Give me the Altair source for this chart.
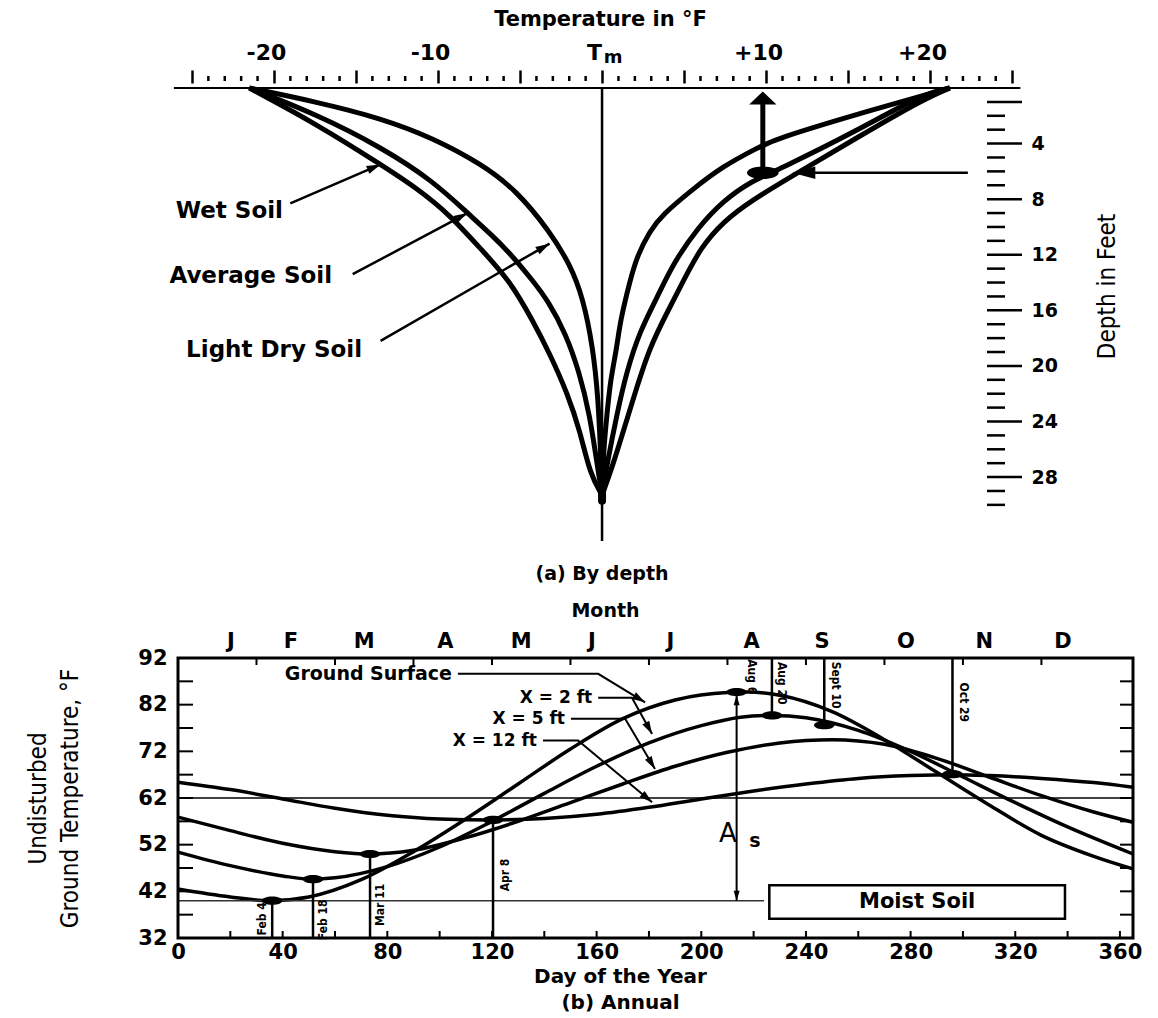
import json
import altair as alt
import numpy as np
import pandas as pd

FONT = "DejaVu Sans"
NARROW = "Liberation Sans Narrow, DejaVu Sans Condensed, sans-serif"
INK = "#000000"

# ======================= (a) By depth =======================
W1, H1 = 844, 453
T_DOM = [-25.85, 25.6]
D_DOM = [0, 32.6]
PX_T = W1 / (T_DOM[1] - T_DOM[0])
PX_D = H1 / (D_DOM[1] - D_DOM[0])

temp_major = [-25, -20, -15, -10, -5, 0, 5, 10, 15, 20, 25]
temp_minor = [v for v in range(-25, 26) if v % 5 != 0]
temp_label_vals = [-20, -10, 0, 10, 20]
temp_label_strs = ["-20", "-10", "T", "+10", "+20"]
tm_subscript = "m"
depth_long_ticks = [1, 4, 8, 12, 16, 20, 24, 28]
depth_short_ticks = [2, 3, 5, 6, 7, 9, 10, 11, 13, 14, 15, 17, 18, 19, 21, 22, 23, 25, 26, 27, 29, 30]
depth_labels = [4, 8, 12, 16, 20, 24, 28]

wet_l_depth = [0, 2.6, 5.5, 7.2, 9.1, 11.7, 13.9, 16.8, 19.1, 22.0, 24.7, 27.8, 29.3]
wet_l_temp = [-21.5, -17.4, -13.5, -11.3, -9.3, -7.3, -5.6, -4.2, -3.2, -2.1, -1.34, -0.73, 0]
avg_l_depth = [0, 1.9, 4.3, 6.7, 9.0, 10.5, 11.9, 13.9, 15.3, 17.7, 20.4, 23.5, 27.1, 29.3]
avg_l_temp = [-21.5, -17.4, -13.4, -10.3, -8.2, -6.8, -5.6, -4.2, -3.3, -2.2, -1.4, -0.75, -0.3, 0]
dry_l_depth = [0, 1.0, 2.2, 3.6, 5.5, 7.4, 10.3, 12.7, 15.1, 18.7, 22.3, 25.9, 29.3]
dry_l_temp = [-21.5, -17.4, -13.4, -10.3, -7.3, -5.2, -3.2, -1.95, -1.16, -0.55, -0.24, -0.1, 0]
wet_r_depth = [0, 0.8, 3.6, 6.4, 8.1, 9.6, 11.5, 13.9, 16.3, 18.7, 21.6, 24.7, 27.1, 29.3]
wet_r_temp = [21.2, 19.6, 15.5, 11.5, 9.1, 7.4, 6.0, 4.95, 3.9, 2.9, 2.1, 1.3, 0.67, 0]
avg_r_depth = [0, 0.4, 3.1, 5.8, 6.7, 8.1, 10.1, 12.7, 15.1, 17.5, 20.4, 23.5, 27.1, 29.3]
avg_r_temp = [21.2, 19.6, 15.5, 10.9, 9.1, 7.4, 5.8, 4.3, 3.35, 2.3, 1.5, 0.9, 0.3, 0]
dry_r_depth = [0, 1.9, 3.7, 4.3, 5.6, 7.4, 9.1, 10.3, 12.2, 13.9, 16.8, 18.7, 21.1, 23.5, 25.9, 29.3]
dry_r_temp = [21.2, 15.5, 10.5, 9.5, 7.4, 5.4, 3.7, 2.9, 2.1, 1.7, 1.1, 0.9, 0.5, 0.3, 0.1, 0]

soil_text = ["Wet Soil", "Average Soil", "Light Dry Soil"]
soil_text_temp = [-19.45, -16.46, -14.63]
soil_text_depth = [8.85, 13.5, 18.85]
soil_arrow_t1 = [-19.0, -15.2, -13.5]
soil_arrow_d1 = [8.3, 13.4, 18.2]
soil_arrow_t2 = [-13.5, -8.2, -3.2]
soil_arrow_d2 = [5.5, 9.0, 11.2]

up_arrow_temp = 9.8
up_arrow_depth = [6.1, 0.25]
side_arrow_temp = [22.3, 11.6]
side_arrow_depth = 6.1

caption_a = "(a) By depth"
caption_a_depth = 35.0

# ======================= (b) Annual =======================
W2, H2 = 955, 280
X_DOM = [0, 365]
Y_DOM = [32, 92]
PX_DAY = W2 / (X_DOM[1] - X_DOM[0])
PX_TMP = H2 / (Y_DOM[1] - Y_DOM[0])

day_labels = list(range(0, 361, 40))
temp_labels_b = list(range(32, 93, 10))
day_ticks_bottom = list(range(20, 361, 20))
day_ticks_top = list(range(30, 331, 30))
temp_ticks_side = list(range(37, 88, 5))
month_letters = ["J", "F", "M", "A", "M", "J", "J", "A", "S", "O", "N", "D"]
month_pos = [20, 43, 71, 102, 131, 158, 188, 219, 246, 278, 308, 338]

surf_day = [0, 20, 35, 50, 70, 90, 110, 130, 150, 170, 190, 210, 218, 230, 250, 270, 290, 310, 330, 350, 365]
surf_temp = [42.5, 40.8, 40.0, 40.8, 44.5, 50.5, 57.5, 65.0, 72.5, 79.0, 83.0, 84.6, 84.7, 84.0, 80.5, 74.5, 67.5, 60.5, 54.0, 49.5, 46.8]
two_day = [0, 20, 40, 51, 60, 80, 100, 120, 140, 160, 180, 200, 215, 227, 240, 260, 280, 300, 320, 340, 365]
two_temp = [50.4, 47.5, 45.3, 44.6, 44.9, 47.3, 51.5, 57.0, 63.0, 68.8, 73.8, 77.5, 79.3, 79.7, 79.2, 76.5, 72.0, 66.5, 61.0, 55.8, 50.0]
five_day = [0, 20, 40, 60, 73, 90, 110, 130, 150, 170, 190, 210, 230, 250, 270, 290, 310, 330, 350, 365]
five_temp = [57.9, 55.0, 52.3, 50.5, 50.0, 50.8, 53.5, 57.0, 61.0, 65.0, 68.8, 71.8, 73.8, 74.5, 73.5, 70.5, 66.5, 62.5, 59.0, 56.8]
twelve_day = [0, 20, 40, 60, 80, 100, 120, 140, 160, 180, 200, 220, 240, 260, 280, 296, 310, 330, 350, 365]
twelve_temp = [65.4, 63.8, 61.8, 59.8, 58.3, 57.5, 57.3, 57.6, 58.5, 60.0, 61.8, 63.5, 65.0, 66.2, 66.8, 67.0, 66.8, 66.2, 65.3, 64.3]

dot_day = [36, 51.6, 73.4, 120.4, 213.5, 227, 247, 296]
dot_temp = [40.0, 44.6, 50.0, 57.3, 84.7, 79.7, 77.6, 67.1]
low_date_day = [36, 51.6, 73.4, 120.4]
low_date_top = [40.0, 44.6, 50.0, 57.3]
high_date_day = [227, 247, 296]
high_date_bottom = [79.7, 77.6, 67.1]

low_label_text = ["Feb 4", "Feb 18", "Mar 11", "Apr 8"]
low_label_day = [32.1, 55.4, 77.2, 125.0]
low_label_temp = [36.1, 35.9, 39.1, 45.5]
high_label_text = ["Aug 6", "Aug 20", "Sept 10", "Oct 29"]
high_label_day = [219.5, 230.8, 251.5, 300.5]
high_label_temp = [88.0, 86.6, 86.2, 82.5]

mean_temp = 62
min_line_temp = 40.0
min_line_end_day = 224
as_day = 213.5
as_top, as_bottom = 84.0, 40.0

box_day = [226, 339]
box_temp = [36.1, 43.3]
box_text = "Moist Soil"
box_text_day, box_text_temp = 282.5, 39.7

curve_names = ["Ground Surface", "X = 2 ft", "X = 5 ft", "X = 12 ft"]
curve_name_size = [19, 17, 17, 17]
curve_text_day = [104.7, 158.3, 147.9, 137.2]
curve_text_temp = [88.6, 83.5, 79.0, 74.3]
leader_day = [[107.0, 160.6, 178.5], [160.6, 173.5, 181.2], [150.2, 170.9, 182.3], [139.5, 152.9, 181.2]]
leader_temp = [[88.6, 88.6, 82.5], [83.5, 83.5, 75.7], [79.0, 79.0, 68.2], [74.3, 74.3, 61.1]]


# ======================= helpers =======================
def tX(field, axis=None):
    return alt.X(field, type="quantitative", scale=alt.Scale(domain=T_DOM, nice=False, zero=False), axis=axis)


def dY(field, axis=None):
    return alt.Y(field, type="quantitative", scale=alt.Scale(domain=D_DOM, nice=False, zero=False, reverse=True), axis=axis)


def bX(field, axis=None):
    return alt.X(field, type="quantitative", scale=alt.Scale(domain=X_DOM, nice=False, zero=False), axis=axis)


def bY(field, axis=None):
    return alt.Y(field, type="quantitative", scale=alt.Scale(domain=Y_DOM, nice=False, zero=False), axis=axis)


def head_rows(x1, y1, x2, y2, pxx, pxy, half, y_down):
    """arrow head centre and angle for a segment ending at (x2, y2)"""
    dx = (x2 - x1) * pxx
    dy = (y2 - y1) * pxy * (1 if y_down else -1)
    n = np.hypot(dx, dy)
    ux, uy = dx / n, dy / n
    ang = (np.degrees(np.arctan2(dx, -dy)) + 360) % 360
    cx = x2 - ux * half / pxx
    cy = y2 - uy * half / pxy * (1 if y_down else -1)
    return cx, cy, ang


HEAD = "M0,-1 L0.6,1 L-0.6,1 Z"
HEAD_WIDE = "M0,-1 L2.1,1 L-2.1,1 Z"
HEAD_MED = "M0,-1 L0.55,1 L-0.55,1 Z"
ELLIPSE = "M-1,0 A1,0.4 0 1,0 1,0 A1,0.4 0 1,0 -1,0 Z"

# ======================= panel (a) layers =======================
temp_expr = "indexof(%s, datum.value) >= 0 ? %s[indexof(%s, datum.value)] : ''" % (
    json.dumps(temp_label_vals), json.dumps(temp_label_strs, ensure_ascii=False), json.dumps(temp_label_vals))

temp_axis = alt.Axis(orient="top", values=temp_major, offset=5, tickSize=13, tickWidth=2.5, tickColor=INK,
                     domain=False, grid=False, labelExpr=temp_expr, labelFontSize=22, labelFontWeight="bold",
                     labelPadding=6, labelOffset=-8, labelFlush=False, labelOverlap=False,
                     title="Temperature in °F", titleFontSize=21, titleFontWeight="bold", titlePadding=12)
depth_axis = alt.Axis(orient="right", values=depth_labels, ticks=False, domain=False, grid=False,
                      labelFontSize=19, labelFontWeight="bold", labelPadding=9, labelOverlap=False,
                      title="Depth in Feet", titleFont=NARROW, titleFontSize=24, titleFontWeight="normal",
                      titleAngle=270, titlePadding=62, titleY=198)

center_df = pd.DataFrame({"t": [0], "d": [D_DOM[0]], "d2": [D_DOM[1]]})
center_line = alt.Chart(center_df).mark_rule(color=INK, strokeWidth=2.5).encode(
    x=tX("t", temp_axis), y=dY("d", depth_axis), y2="d2")

tm_sub = alt.Chart(pd.DataFrame({"t": [0.1], "s": [tm_subscript]})).mark_text(
    font=FONT, fontSize=18, fontWeight="bold", color=INK, baseline="middle", align="left").encode(
    x=tX("t"), y=alt.value(-30), text="s:N")

top_line = alt.Chart(pd.DataFrame({"t": [-26.1], "t2": [25.5], "d": [0]})).mark_rule(
    color=INK, strokeWidth=2).encode(x=tX("t"), x2="t2", y=dY("d"))

minor_ruler = alt.Chart(pd.DataFrame({"t": temp_minor})).mark_rule(color=INK, strokeWidth=2.5).encode(
    x=tX("t"), y=alt.value(-12), y2=alt.value(-7))

long_ticks = alt.Chart(pd.DataFrame({"d": depth_long_ticks})).mark_rule(color=INK, strokeWidth=2.5).encode(
    y=dY("d"), x=alt.value(W1 - 35), x2=alt.value(W1))
short_ticks = alt.Chart(pd.DataFrame({"d": depth_short_ticks})).mark_rule(color=INK, strokeWidth=2.5).encode(
    y=dY("d"), x=alt.value(W1 - 35), x2=alt.value(W1 - 17))

rows = []
for name, ds, ts in [("wet_l", wet_l_depth, wet_l_temp), ("avg_l", avg_l_depth, avg_l_temp),
                     ("dry_l", dry_l_depth, dry_l_temp), ("wet_r", wet_r_depth, wet_r_temp),
                     ("avg_r", avg_r_depth, avg_r_temp), ("dry_r", dry_r_depth, dry_r_temp)]:
    for i, (d, t) in enumerate(zip(ds, ts)):
        rows.append({"curve": name, "i": i, "d": d, "t": t})
curves_top = alt.Chart(pd.DataFrame(rows)).mark_line(color=INK, strokeWidth=5, interpolate="basis").encode(
    x=tX("t"), y=dY("d"), detail="curve:N", order="i:Q")

blob = alt.Chart(pd.DataFrame({"t": [0], "d": [26.3], "d2": [29.7]})).mark_rule(
    color=INK, strokeWidth=8, strokeCap="round").encode(x=tX("t"), y=dY("d"), y2="d2")

soil_df = pd.DataFrame({"label": soil_text, "t": soil_text_temp, "d": soil_text_depth})
soil_labels = alt.Chart(soil_df).mark_text(font=FONT, fontSize=23, fontWeight="bold", align="right",
                                           baseline="middle", color=INK).encode(
    x=tX("t"), y=dY("d"), text="label:N")

arrow_df = pd.DataFrame({"t": soil_arrow_t1, "d": soil_arrow_d1, "t2": soil_arrow_t2, "d2": soil_arrow_d2})
soil_arrows = alt.Chart(arrow_df).mark_rule(color=INK, strokeWidth=2.5).encode(
    x=tX("t"), y=dY("d"), x2="t2", y2="d2")
hrows = []
for a, b, c, e in zip(soil_arrow_t1, soil_arrow_d1, soil_arrow_t2, soil_arrow_d2):
    cx, cy, ang = head_rows(a, b, c, e, PX_T, PX_D, 7, True)
    hrows.append({"t": cx, "d": cy, "ang": ang})
soil_heads = alt.Chart(pd.DataFrame(hrows)).mark_point(shape=HEAD, filled=True, size=196, color=INK, opacity=1).encode(
    x=tX("t"), y=dY("d"), angle=alt.Angle("ang:Q", scale=None))

up_df = pd.DataFrame({"t": [up_arrow_temp], "d": [up_arrow_depth[0]], "d2": [up_arrow_depth[1] + 0.6]})
up_shaft = alt.Chart(up_df).mark_rule(color=INK, strokeWidth=5).encode(x=tX("t"), y=dY("d"), y2="d2")
up_head = alt.Chart(pd.DataFrame({"t": [up_arrow_temp], "d": [up_arrow_depth[1] + 6.5 / PX_D]})).mark_point(
    shape=HEAD_WIDE, filled=True, size=169, color=INK, opacity=1).encode(x=tX("t"), y=dY("d"))
dot_a = alt.Chart(pd.DataFrame({"t": [up_arrow_temp], "d": [up_arrow_depth[0]]})).mark_point(
    shape=ELLIPSE, filled=True, size=1000, color=INK, opacity=1).encode(x=tX("t"), y=dY("d"))

side_df = pd.DataFrame({"t": [side_arrow_temp[0]], "t2": [side_arrow_temp[1] + 0.6], "d": [side_arrow_depth]})
side_shaft = alt.Chart(side_df).mark_rule(color=INK, strokeWidth=2.5).encode(x=tX("t"), x2="t2", y=dY("d"))
scx, scy, sang = head_rows(side_arrow_temp[0], side_arrow_depth, side_arrow_temp[1], side_arrow_depth,
                           PX_T, PX_D, 11.5, True)
side_head = alt.Chart(pd.DataFrame({"t": [scx], "d": [scy], "ang": [sang]})).mark_point(
    shape=HEAD_MED, filled=True, size=529, color=INK, opacity=1).encode(
    x=tX("t"), y=dY("d"), angle=alt.Angle("ang:Q", scale=None))

cap_a = alt.Chart(pd.DataFrame({"t": [0], "d": [caption_a_depth], "s": [caption_a]})).mark_text(
    font=FONT, fontSize=19, fontWeight="bold", color=INK, baseline="middle").encode(
    x=tX("t"), y=dY("d"), text="s:N")

panel_a = alt.layer(
    center_line, tm_sub, top_line, minor_ruler, long_ticks, short_ticks, curves_top, blob,
    soil_arrows, soil_heads, soil_labels, up_shaft, up_head, dot_a, side_shaft, side_head, cap_a
).resolve_axis(x="independent", y="independent").properties(width=W1, height=H1)

# ======================= panel (b) layers =======================
month_expr = "%s[indexof(%s, datum.value)]" % (json.dumps(month_letters), json.dumps(month_pos))
day_axis = alt.Axis(orient="bottom", values=day_labels, ticks=False, domain=False, grid=False,
                    labelFontSize=21, labelFontWeight="bold", labelPadding=3, labelFlush=False,
                    labelOverlap=False, title=["Day of the Year", "(b) Annual"], titleFontSize=20,
                    titleFontWeight="bold", titlePadding=4, titleX=442, titleAlign="center", titleLineHeight=26)
tempb_axis = alt.Axis(orient="left", values=temp_labels_b, ticks=False, domain=False, grid=False,
                      labelFontSize=21, labelFontWeight="bold", labelPadding=11, labelOverlap=False,
                      title=["Undisturbed", "Ground Temperature, °F"], titleFont=NARROW, titleFontSize=24,
                      titleFontWeight="normal", titlePadding=55, titleLineHeight=32)
month_axis = alt.Axis(orient="top", values=month_pos, ticks=False, domain=False, grid=False,
                      labelExpr=month_expr, labelFontSize=21, labelFontWeight="bold", labelPadding=7,
                      labelFlush=False, labelOverlap=False, title="Month", titleFontSize=19,
                      titleFontWeight="bold", titlePadding=10, titleX=427, titleAlign="center")

rows = []
for name, ds, ts in [("surf", surf_day, surf_temp), ("two", two_day, two_temp),
                     ("five", five_day, five_temp), ("twelve", twelve_day, twelve_temp)]:
    for i, (d, t) in enumerate(zip(ds, ts)):
        rows.append({"curve": name, "i": i, "day": d, "temp": t})
curves_b = alt.Chart(pd.DataFrame(rows)).mark_line(color=INK, strokeWidth=3.5, interpolate="monotone").encode(
    x=bX("day", day_axis), y=bY("temp", tempb_axis), detail="curve:N", order="i:Q")

top_ticks = alt.Chart(pd.DataFrame({"day": day_ticks_top})).mark_rule(color=INK, strokeWidth=2).encode(
    x=bX("day", month_axis), y=alt.value(0), y2=alt.value(7))
bottom_ticks = alt.Chart(pd.DataFrame({"day": day_ticks_bottom})).mark_rule(color=INK, strokeWidth=2).encode(
    x=bX("day"), y=alt.value(H2), y2=alt.value(H2 - 7))
left_ticks = alt.Chart(pd.DataFrame({"temp": temp_ticks_side})).mark_rule(color=INK, strokeWidth=2).encode(
    y=bY("temp"), x=alt.value(0), x2=alt.value(15))
right_ticks = alt.Chart(pd.DataFrame({"temp": temp_ticks_side})).mark_rule(color=INK, strokeWidth=2).encode(
    y=bY("temp"), x=alt.value(W2 - 13), x2=alt.value(W2))

border = alt.Chart(pd.DataFrame({"a": [0]})).mark_rect(fillOpacity=0, stroke=INK, strokeWidth=3).encode(
    x=alt.value(0), x2=alt.value(W2), y=alt.value(0), y2=alt.value(H2))

mean_line = alt.Chart(pd.DataFrame({"temp": [mean_temp]})).mark_rule(color=INK, strokeWidth=1.5).encode(
    y=bY("temp"))
min_line = alt.Chart(pd.DataFrame({"day": [0], "day2": [min_line_end_day], "temp": [min_line_temp]})).mark_rule(
    color="#333333", strokeWidth=1.5).encode(x=bX("day"), x2="day2", y=bY("temp"))

low_lines = alt.Chart(pd.DataFrame({"day": low_date_day, "t1": [32] * 4, "t2": low_date_top})).mark_rule(
    color=INK, strokeWidth=2.5).encode(x=bX("day"), y=bY("t1"), y2="t2")
high_lines = alt.Chart(pd.DataFrame({"day": high_date_day, "t1": [92] * 3, "t2": high_date_bottom})).mark_rule(
    color=INK, strokeWidth=2.5).encode(x=bX("day"), y=bY("t1"), y2="t2")
dots_b = alt.Chart(pd.DataFrame({"day": dot_day, "temp": dot_temp})).mark_point(
    shape=ELLIPSE, filled=True, size=420, color=INK, opacity=1).encode(x=bX("day"), y=bY("temp"))

low_labels = alt.Chart(pd.DataFrame({"s": low_label_text, "day": low_label_day, "temp": low_label_temp})).mark_text(
    font=NARROW, fontSize=12, fontWeight="bold", angle=270, color=INK, baseline="middle").encode(
    x=bX("day"), y=bY("temp"), text="s:N")
high_labels = alt.Chart(pd.DataFrame({"s": high_label_text, "day": high_label_day, "temp": high_label_temp})).mark_text(
    font=NARROW, fontSize=12, fontWeight="bold", angle=90, color=INK, baseline="middle").encode(
    x=bX("day"), y=bY("temp"), text="s:N")

as_shaft = alt.Chart(pd.DataFrame({"day": [as_day], "t1": [as_top], "t2": [as_bottom]})).mark_rule(
    color=INK, strokeWidth=2).encode(x=bX("day"), y=bY("t1"), y2="t2")
as_heads = alt.Chart(pd.DataFrame({"day": [as_day, as_day],
                                   "temp": [as_top - 5 / PX_TMP, as_bottom + 5 / PX_TMP],
                                   "ang": [0, 180]})).mark_point(
    shape=HEAD, filled=True, size=100, color=INK, opacity=1).encode(
    x=bX("day"), y=bY("temp"), angle=alt.Angle("ang:Q", scale=None))
as_a = alt.Chart(pd.DataFrame({"day": [210.2], "temp": [54.3], "s": ["A"]})).mark_text(
    font=FONT, fontSize=26, color=INK, baseline="middle").encode(x=bX("day"), y=bY("temp"), text="s:N")
as_s = alt.Chart(pd.DataFrame({"day": [220.5], "temp": [52.8], "s": ["s"]})).mark_text(
    font=FONT, fontSize=19, fontWeight="bold", color=INK, baseline="middle").encode(
    x=bX("day"), y=bY("temp"), text="s:N")

box = alt.Chart(pd.DataFrame({"d1": [box_day[0]], "d2": [box_day[1]], "t1": [box_temp[0]], "t2": [box_temp[1]]})).mark_rect(
    fill="white", stroke=INK, strokeWidth=2.5).encode(x=bX("d1"), x2="d2", y=bY("t1"), y2="t2")
box_label = alt.Chart(pd.DataFrame({"day": [box_text_day], "temp": [box_text_temp], "s": [box_text]})).mark_text(
    font=FONT, fontSize=21, fontWeight="bold", color=INK, baseline="middle").encode(
    x=bX("day"), y=bY("temp"), text="s:N")

name_labels = alt.Chart(pd.DataFrame({"s": curve_names, "day": curve_text_day, "temp": curve_text_temp,
                                      "fs": curve_name_size})).mark_text(
    font=FONT, fontWeight="bold", color=INK, align="right", baseline="middle").encode(
    x=bX("day"), y=bY("temp"), text="s:N", size=alt.Size("fs:Q", scale=None))

rows, hrows = [], []
for k, (ds, ts) in enumerate(zip(leader_day, leader_temp)):
    for i, (d, t) in enumerate(zip(ds, ts)):
        rows.append({"k": k, "i": i, "day": d, "temp": t})
    cx, cy, ang = head_rows(ds[-2], ts[-2], ds[-1], ts[-1], PX_DAY, PX_TMP, 6.5, False)
    hrows.append({"day": cx, "temp": cy, "ang": ang})
leaders = alt.Chart(pd.DataFrame(rows)).mark_line(color=INK, strokeWidth=2).encode(
    x=bX("day"), y=bY("temp"), detail="k:N", order="i:Q")
leader_heads = alt.Chart(pd.DataFrame(hrows)).mark_point(shape=HEAD, filled=True, size=169, color=INK, opacity=1).encode(
    x=bX("day"), y=bY("temp"), angle=alt.Angle("ang:Q", scale=None))

panel_b = alt.layer(
    curves_b, top_ticks, bottom_ticks, left_ticks, right_ticks, mean_line, min_line,
    low_lines, high_lines, dots_b, low_labels, high_labels, as_shaft, as_heads, as_a, as_s,
    box, box_label, name_labels, leaders, leader_heads, border
).resolve_axis(x="independent", y="independent").properties(width=W2, height=H2)

chart = alt.vconcat(panel_a, panel_b, spacing=16).properties(
    padding={"left": 18, "top": 0, "right": 5, "bottom": 5}
).configure_view(stroke=None).configure_axis(
    labelFont=FONT, titleFont=FONT, labelColor=INK, titleColor=INK
)

chart.save("out.html", embed_options={"renderer": "svg", "actions": False})
